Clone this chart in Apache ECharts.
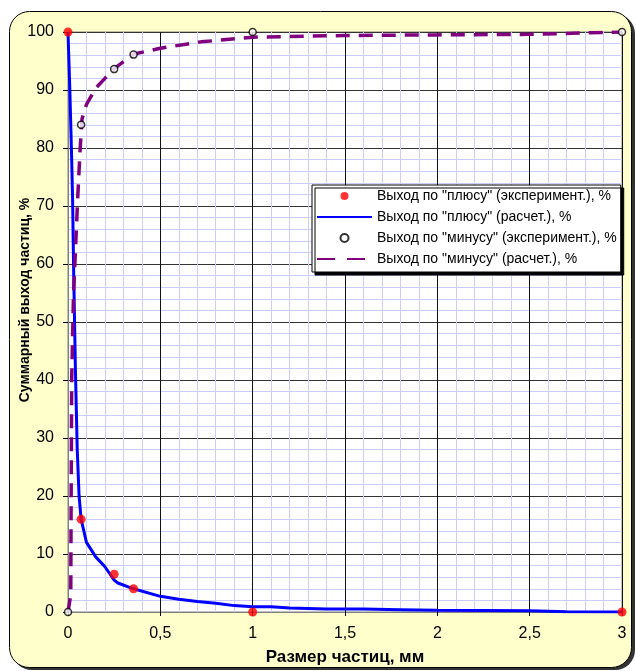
<!DOCTYPE html>
<html>
<head>
<meta charset="utf-8">
<script src="https://cdn.jsdelivr.net/npm/echarts@6/dist/echarts.min.js"></script>
<style>
  html, body { margin: 0; padding: 0; background: #fff; }
  #chart { width: 636px; height: 671px; }
</style>
</head>
<body>
<div id="chart"></div>
<script>
// experimental points
const expX = [0, 0.071, 0.25, 0.355, 1, 3];
const plusExp = [100, 16, 6.5, 4, 0, 0];
const minusExp = [0, 84, 93.6, 96.1, 100, 100];

// calculated curves
const plusCalcX = [0, 0.01, 0.02, 0.025, 0.03, 0.04, 0.05, 0.06, 0.071, 0.1, 0.15, 0.2, 0.25, 0.27, 0.355, 0.5, 0.6, 0.7, 0.8, 0.9, 1, 1.1, 1.2, 1.3, 1.4, 1.6, 1.8, 2, 2.5, 2.7, 3];
const plusCalc = [100, 90, 78, 71, 60, 42, 28, 20, 16, 12, 9.5, 7.8, 5.5, 5, 4, 2.7, 2.2, 1.8, 1.5, 1.1, 0.9, 0.9, 0.7, 0.6, 0.5, 0.5, 0.4, 0.3, 0.2, 0.05, 0];
const minusCalcX = [0, 0.015, 0.017, 0.02, 0.03, 0.04, 0.052, 0.066, 0.076, 0.1, 0.15, 0.2, 0.25, 0.357, 0.5, 0.72, 1, 1.5, 2, 2.5, 3];
const minusCalc = [0, 3, 20, 40, 55, 62, 71, 80, 85, 87.5, 90.3, 92, 93.7, 96.2, 97.2, 98.3, 99.1, 99.4, 99.5, 99.6, 100];

const names = [
  'Выход по "плюсу" (эксперимент.), %',
  'Выход по "плюсу" (расчет.), %',
  'Выход по "минусу" (эксперимент.), %',
  'Выход по "минусу" (расчет.), %'
];

function pairs(xs, ys) {
  return xs.map((x, i) => [x, ys[i]]);
}

const chart = echarts.init(document.getElementById('chart'));
const font = 'Liberation Sans, Arial, sans-serif';

chart.setOption({
  backgroundColor: '#fff',
  animation: false,
  textStyle: { fontFamily: font },
  graphic: [
    {
      // shadow of the chart area
      type: 'rect',
      z: -11,
      shape: { x: 12, y: 14, width: 623, height: 656, r: 20 },
      style: { fill: '#333' }
    },
    {
      type: 'rect',
      z: -10,
      shape: { x: 9.5, y: 11.5, width: 622, height: 656, r: 20 },
      style: { fill: '#FFFFCC', stroke: '#000', lineWidth: 1 }
    }
  ],
  grid: {
    left: 68,
    right: 14,
    top: 32,
    bottom: 59,
    containLabel: false,
    outerBoundsMode: 'none',
    show: true,
    backgroundColor: '#fff',
    borderColor: '#808080',
    borderWidth: 1
  },
  legend: {
    orient: 'vertical',
    left: 312,
    top: 185,
    itemWidth: 55,
    itemHeight: 8,
    itemGap: 7,
    padding: [4, 4, 6, 4],
    backgroundColor: '#fff',
    borderColor: '#000',
    borderWidth: 1,
    shadowColor: '#000',
    shadowBlur: 0,
    shadowOffsetX: 3,
    shadowOffsetY: 3,
    textStyle: { fontFamily: font, fontSize: 14, color: '#000' },
    data: [
      { name: names[0] },
      { name: names[1], itemStyle: { opacity: 0 } },
      { name: names[2] },
      { name: names[3], itemStyle: { opacity: 0 }, lineStyle: { type: [18, 12] } }
    ]
  },
  xAxis: {
    type: 'value',
    min: 0,
    max: 3,
    interval: 0.5,
    name: 'Размер частиц, мм',
    nameLocation: 'middle',
    nameGap: 37,
    nameMoveOverlap: false,
    nameTextStyle: { fontFamily: font, fontSize: 17, fontWeight: 'bold', color: '#000' },
    axisLine: { show: true, onZero: false, lineStyle: { color: '#808080' } },
    axisTick: { show: true, length: 4, lineStyle: { color: '#000' } },
    axisLabel: {
      fontFamily: font, fontSize: 16, color: '#000', margin: 14,
      formatter: v => String(v).replace('.', ',')
    },
    splitLine: { show: true, lineStyle: { color: '#111', width: 1 } },
    minorTick: { show: false, splitNumber: 5 },
    minorSplitLine: { show: true, lineStyle: { color: '#CCCCFF', width: 1 } }
  },
  yAxis: {
    type: 'value',
    min: 0,
    max: 100,
    interval: 10,
    name: 'Суммарный выход частиц, %',
    nameLocation: 'middle',
    nameGap: 36,
    nameMoveOverlap: false,
    nameTextStyle: {
      fontFamily: font, fontSize: 14, fontWeight: 'bold', color: '#000',
      padding: [0, 0, 0, 44]
    },
    axisLine: { show: true, lineStyle: { color: '#808080' } },
    axisTick: { show: true, length: 5, lineStyle: { color: '#000' } },
    axisLabel: { fontFamily: font, fontSize: 16, color: '#000', margin: 14 },
    splitLine: { show: true, lineStyle: { color: '#333', width: 1 } },
    minorTick: { show: false, splitNumber: 5 },
    minorSplitLine: { show: true, lineStyle: { color: '#CCCCFF', width: 1 } }
  },
  series: [
    {
      name: names[0],
      type: 'scatter',
      symbol: 'circle',
      symbolSize: 9,
      itemStyle: { color: '#FF0000' },
      z: 5,
      data: pairs(expX, plusExp)
    },
    {
      name: names[1],
      type: 'line',
      showSymbol: false,
      itemStyle: { color: '#0000FF' },
      lineStyle: { color: '#0000FF', width: 3 },
      z: 3,
      data: pairs(plusCalcX, plusCalc)
    },
    {
      name: names[2],
      type: 'scatter',
      symbol: 'circle',
      symbolSize: 7,
      itemStyle: { color: '#fff', borderColor: '#000', borderWidth: 1.5 },
      z: 5,
      data: pairs(expX, minusExp)
    },
    {
      name: names[3],
      type: 'line',
      showSymbol: false,
      itemStyle: { color: '#800080' },
      lineStyle: { color: '#800080', width: 3.5, type: [14, 9] },
      z: 4,
      data: pairs(minusCalcX, minusCalc)
    }
  ]
});
</script>
</body>
</html>
